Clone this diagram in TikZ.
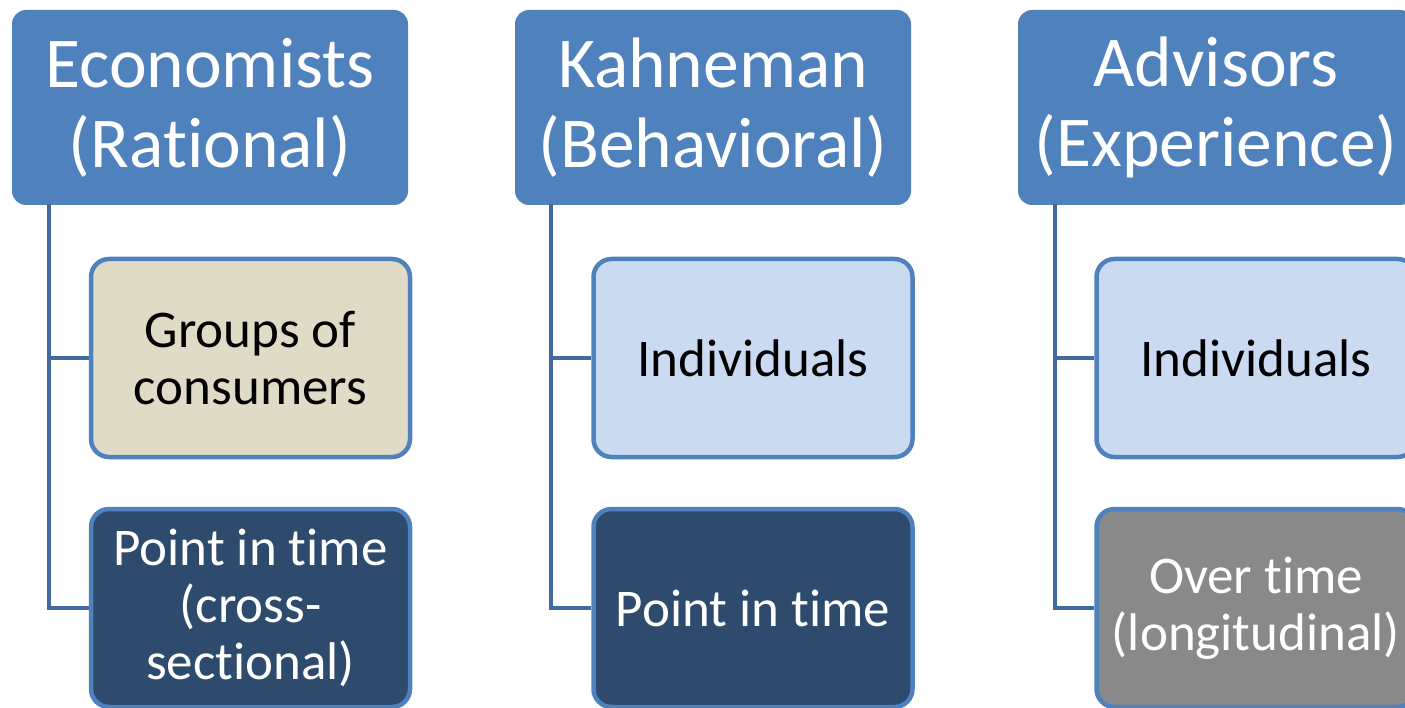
\documentclass[tikz,border=0pt]{standalone}
\usepackage{fontspec}
\setmainfont[Ligatures=NoCommon]{Carlito}
\definecolor{topblue}{HTML}{4F81BD}
\definecolor{edgeblue}{HTML}{4F81BD}
\definecolor{linkblue}{HTML}{41699B}
\definecolor{tan}{HTML}{DFDBC6}
\definecolor{lightblue}{HTML}{CADBF1}
\definecolor{navy}{HTML}{2E4A6D}
\definecolor{greybox}{HTML}{898989}
\begin{document}
\begin{tikzpicture}[x=1pt,y=-1pt,
  headbox/.style={draw=none,fill=topblue,rounded corners=14pt,minimum width=396pt,minimum height=195pt,
    align=center,text=white,font=\fontsize{71.5}{80}\selectfont,inner sep=0pt},
  childbox/.style={draw=edgeblue,line width=4.5pt,rounded corners=18pt,minimum width=319pt,minimum height=198pt,
    align=center,font=\fontsize{53}{57}\selectfont,inner sep=0pt},
  link/.style={draw=linkblue,line width=4pt}]
\useasboundingbox (0,0) rectangle (1405,708);
\clip (0,0) rectangle (1405,708);
% heads
\node[headbox] (h1) at (210,107.5) {Economists\\(Rational)};
\node[headbox] (h2) at (713,107.5) {Kahneman\\(Behavioral)};
\node[headbox] (h3) at (1216,107.5) {Advisors\\(Experience)};
% children
\node[childbox,fill=tan,text=black] (a1) at (250.5,358) {Groups of\\consumers};
\node[childbox,fill=navy,text=white] (a2) at (250.5,608) {Point in time\\(cross-\\sectional)};
\node[childbox,fill=lightblue,text=black] (b1) at (753,358) {Individuals};
\node[childbox,fill=navy,text=white] (b2) at (753,608) {Point in time};
\node[childbox,fill=lightblue,text=black] (c1) at (1256,358) {Individuals};
\node[childbox,fill=greybox,text=white] (c2) at (1256,608) {Over time\\(longitudinal)};
% links
\coordinate (s1) at (49,204);
\coordinate (s2) at (551,204);
\coordinate (s3) at (1055,204);
\draw[link] (s1) |- (a1.west);
\draw[link] (s1) |- (a2.west);
\draw[link] (s2) |- (b1.west);
\draw[link] (s2) |- (b2.west);
\draw[link] (s3) |- (c1.west);
\draw[link] (s3) |- (c2.west);
\end{tikzpicture}
\end{document}
